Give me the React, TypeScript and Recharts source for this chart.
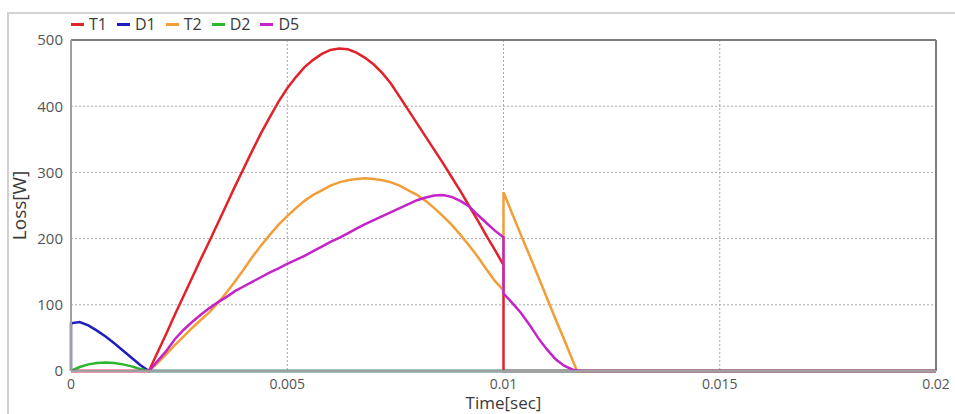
import React from 'react';
import { LineChart, Line, XAxis, YAxis, CartesianGrid, ReferenceLine } from 'recharts';

// Time grids [s]
const startTimes = [0.0002, 0.0004, 0.0006, 0.0008, 0.001, 0.0012, 0.0014, 0.0016, 0.0018];
const rampTimes = [
  0.002, 0.0022, 0.0024, 0.0026, 0.0028, 0.003, 0.0032, 0.0034, 0.0036, 0.0038,
  0.004, 0.0042, 0.0044, 0.0046, 0.0048, 0.005, 0.0052, 0.0054, 0.0056, 0.0058,
  0.006, 0.0062, 0.0064, 0.0066, 0.0068, 0.007, 0.0072, 0.0074, 0.0076, 0.0078,
  0.008, 0.0082, 0.0084, 0.0086, 0.0088, 0.009, 0.0092, 0.0094, 0.0096, 0.0098, 0.01,
];
const tailTimes = [0.0102, 0.0104, 0.0106, 0.0108, 0.011, 0.0112, 0.0114, 0.0116, 0.0118];
const t2TailTimes = [0.0102, 0.0104, 0.0106, 0.0108, 0.011, 0.0112, 0.0114, 0.0116, 0.0117];

const xTicks = [0, 0.005, 0.01, 0.015, 0.02];
const yTicks = [0, 100, 200, 300, 400, 500];

// Loss values [W]
const t1Ramp = [
  28, 56, 85, 113, 141, 169, 196, 224, 252, 280,
  307, 334, 360, 384, 407, 427, 444, 459, 470, 479,
  485, 487, 486, 481, 473, 463, 450, 434, 414, 394,
  374, 354, 334, 314, 293, 272, 250, 228, 205, 183, 160,
];
const t2Ramp = [
  12, 25, 39, 52, 65, 77, 89, 103, 119, 136,
  154, 173, 190, 206, 221, 234, 246, 257, 266, 273,
  280, 285, 288, 290, 291, 290, 288, 285, 280, 273,
  266, 257, 246, 234, 221, 206, 190, 173, 154, 136, 122,
];
const t2Tail = [238, 206, 175, 143, 111, 79, 48, 16, 0];
const d5Ramp = [
  15, 30, 48, 62, 74, 85, 95, 104, 112, 121,
  128, 135, 142, 149, 155, 162, 168, 174, 181, 188,
  195, 201, 208, 215, 222, 228, 234, 240, 246, 252,
  258, 262, 265, 266, 263, 257, 249, 236, 224, 212, 202,
];
const d5Tail = [103, 88, 70, 50, 33, 18, 8, 2, 0];
const d1Start = [74, 69, 61, 52, 42, 31, 20, 9, 0];
const d2Start = [6, 10, 12, 13, 12, 10, 7, 3, 0];

type Row = { t: number; v: number };
const toRows = (times: number[], values: number[]): Row[] =>
  times.map((t, i) => ({ t, v: values[i] }));

const t1Rows = toRows([0, 0.0018, ...rampTimes, 0.01, 0.02], [0, 0, ...t1Ramp, 0, 0]);
const d1Rows = toRows([0, 0, ...startTimes, 0.02], [0, 72, ...d1Start, 0]);
const t2Rows = toRows(
  [0, 0.0018, ...rampTimes, 0.01, ...t2TailTimes, 0.02],
  [0, 0, ...t2Ramp, 270, ...t2Tail, 0],
);
const d2Rows = toRows([0, ...startTimes, 0.02], [0, ...d2Start, 0]);
const d5Rows = toRows(
  [0, 0.0018, ...rampTimes, 0.01, ...tailTimes, 0.02],
  [0, 0, ...d5Ramp, 117, ...d5Tail, 0],
);

const series = [
  { name: 'T1', color: '#e0222b', rows: t1Rows },
  { name: 'D1', color: '#1e1ebe', rows: d1Rows },
  { name: 'T2', color: '#f29e38', rows: t2Rows },
  { name: 'D2', color: '#2db52d', rows: d2Rows },
  { name: 'D5', color: '#c323c9', rows: d5Rows },
];

const FONT = '"Open Sans", "Noto Sans", sans-serif';

export default function App() {
  return (
    <div
      style={{
        position: 'fixed',
        left: 0,
        top: 0,
        width: 955,
        height: 414,
        background: '#fff',
        fontFamily: FONT,
        overflow: 'hidden',
      }}
    >
      <div
        style={{
          position: 'absolute',
          left: 7,
          top: 12,
          right: 0,
          bottom: 0,
          borderLeft: '2px solid #d2d2d2',
          borderTop: '2px solid #d2d2d2',
        }}
      />
      <div style={{ position: 'absolute', left: 0, top: 0 }}>
        <LineChart width={955} height={414} margin={{ top: 40, right: 19, bottom: 0, left: 0 }}>
          <CartesianGrid stroke="#a8a8a8" strokeDasharray="2 2" />
          <XAxis
            type="number"
            dataKey="t"
            domain={[0, 0.02]}
            ticks={xTicks}
            interval={0}
            height={43}
            tickLine={false}
            tickMargin={2}
            axisLine={{ stroke: '#a0a0a0', strokeWidth: 2 }}
            tick={{ fill: '#555', fontSize: 14, fontFamily: FONT }}
            label={{
              value: 'Time[sec]',
              position: 'insideBottom',
              offset: 5,
              style: { fill: '#3a3a3a', fontSize: 17, fontFamily: FONT },
            }}
          />
          <YAxis
            type="number"
            domain={[0, 500]}
            ticks={yTicks}
            interval={0}
            width={71}
            tickLine={false}
            axisLine={{ stroke: '#a0a0a0', strokeWidth: 2 }}
            tick={{ fill: '#555', fontSize: 15, fontFamily: FONT }}
            label={{
              value: 'Loss[W]',
              content: (props: any) => {
                const vb = props.viewBox || { x: 0, y: 40, width: 71, height: 331 };
                const cx = vb.x + 19;
                const cy = vb.y + vb.height / 2;
                return (
                  <text
                    x={cx}
                    y={cy}
                    transform={`rotate(-90 ${cx} ${cy})`}
                    textAnchor="middle"
                    dominantBaseline="central"
                    fill="#3a3a3a"
                    fontSize={19}
                    fontFamily={FONT}
                  >
                    Loss[W]
                  </text>
                );
              },
            }}
          />
          <ReferenceLine y={500} stroke="#7c7c7c" strokeWidth={2} />
          <ReferenceLine x={0.02} stroke="#7c7c7c" strokeWidth={2} />
          {series.map((s) => (
            <Line
              key={s.name}
              name={s.name}
              data={s.rows}
              dataKey="v"
              type="linear"
              stroke={s.color}
              strokeWidth={2.5}
              dot={false}
              activeDot={false}
              isAnimationActive={false}
            />
          ))}
        </LineChart>
      </div>
      <div
        style={{
          position: 'absolute',
          left: 71,
          top: 14,
          height: 20,
          display: 'flex',
          alignItems: 'center',
          fontSize: 16,
          color: '#3a3a3a',
        }}
      >
        {series.map((s) => (
          <div key={s.name} style={{ display: 'flex', alignItems: 'center', marginRight: 10 }}>
            <span
              style={{ display: 'inline-block', width: 13, height: 3, background: s.color, marginRight: 5 }}
            />
            <span>{s.name}</span>
          </div>
        ))}
      </div>
    </div>
  );
}
